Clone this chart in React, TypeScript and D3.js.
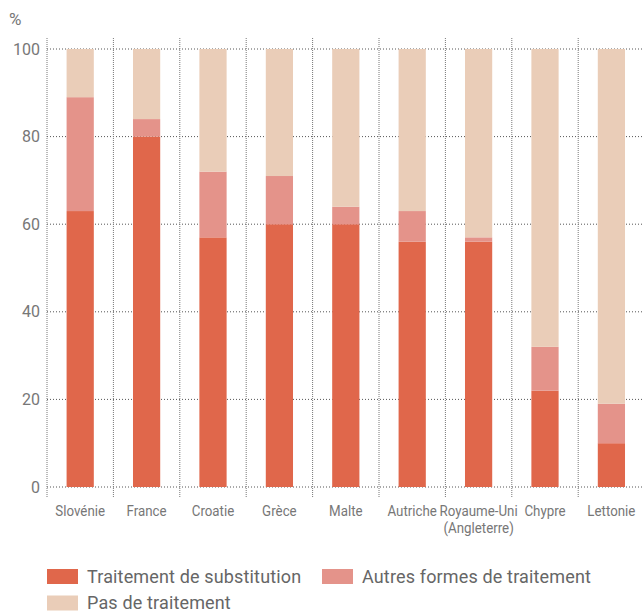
import * as d3 from "d3";

const categories = ["Slovénie", "France", "Croatie", "Grèce", "Malte", "Autriche", "Royaume-Uni|(Angleterre)", "Chypre", "Lettonie"];
const substitution = [63, 80, 57, 60, 60, 56, 56, 22, 10];
const autres = [26, 4, 15, 11, 4, 7, 1, 10, 9];
const aucun = [11, 16, 28, 29, 36, 37, 43, 68, 81];
const yTicks = [0, 20, 40, 60, 80, 100];
const seriesNames = ["Traitement de substitution", "Autres formes de traitement", "Pas de traitement"];
const colors = ["#E0674B", "#E4938A", "#EACDB8"];

const W = 642, H = 612;
const left = 47, top = 49, bottom = 487;
const FONT = "Roboto, sans-serif";

const App = () => {
  const x = d3.scaleBand<string>().domain(categories).range([left, left + 9 * 66.4]).paddingInner(0).paddingOuter(0);
  const y = d3.scaleLinear().domain([0, 100]).range([bottom, top]);
  const barW = x.bandwidth() * 0.41;

  const rows = categories.map((c, i) => ({ c, a: substitution[i], b: autres[i], n: aucun[i] }));
  const stack = d3.stack<any>().keys(["a", "b", "n"])(rows);

  const boundaries = categories.map((c) => x(c)!);

  return (
    <svg width={W} height={H} style={{ position: "absolute", left: 0, top: 0, fontFamily: FONT }}>
      <text x={9} y={25} fontSize={17} fill="#777">%</text>
      {yTicks.map((t) => (
        <g key={t}>
          <line x1={left} x2={W} y1={y(t)} y2={y(t)} stroke="#555" strokeDasharray="1,2" />
          <text x={40} y={y(t) + 5.5} textAnchor="end" fontSize={16} fill="#777">{t}</text>
        </g>
      ))}
      {boundaries.map((bx, i) => (
        <line key={i} x1={bx} x2={bx} y1={38} y2={497} stroke="#777" strokeDasharray="1,1" />
      ))}
      {stack.map((s, si) => (
        <g key={si} fill={colors[si]}>
          {s.map((d, i) => (
            <rect key={i} x={x(categories[i])! + (x.bandwidth() - barW) / 2} y={y(d[1])} width={barW} height={y(d[0]) - y(d[1])} />
          ))}
        </g>
      ))}
      {categories.map((c) => (
        <g key={c} transform={`translate(${x(c)! + x.bandwidth() / 2},516) scale(0.86,1)`}>
          <text textAnchor="middle" fontSize={15.5} fill="#777">
            {c.split("|").map((l, j) => (
              <tspan key={j} x={0} dy={j === 0 ? 0 : 17}>{l}</tspan>
            ))}
          </text>
        </g>
      ))}
      {seriesNames.map((n, i) => {
        const lx = i === 1 ? 322 : 47;
        const ly = i === 2 ? 595.5 : 569;
        return (
          <g key={n}>
            <rect x={lx} y={ly} width={31} height={15} fill={colors[i]} />
            <text x={lx + 40} y={ly + 13.5} fontSize={18} fill="#666" letterSpacing={0.15}>{n}</text>
          </g>
        );
      })}
    </svg>
  );
};

export default App;
